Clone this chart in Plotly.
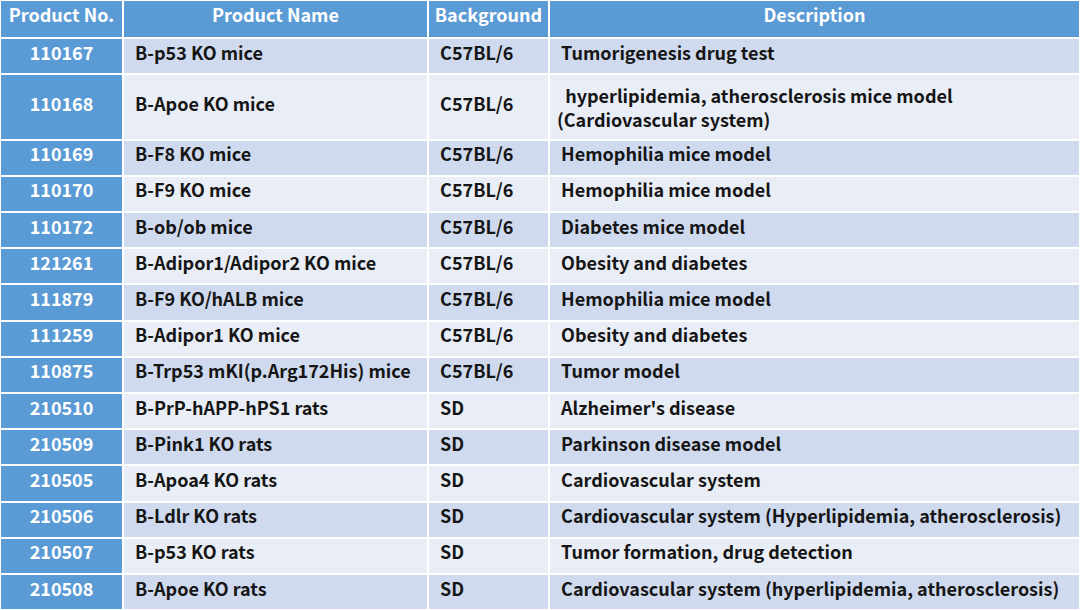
import plotly.graph_objects as go

headers = ["Product No.", "Product Name", "Background", "Description"]
product_no = ["110167", "110168", "110169", "110170", "110172", "121261", "111879",
              "111259", "110875", "210510", "210509", "210505", "210506", "210507", "210508"]
product_name = ["B-p53 KO mice", "B-Apoe KO mice", "B-F8 KO mice", "B-F9 KO mice",
                "B-ob/ob mice", "B-Adipor1/Adipor2 KO mice", "B-F9 KO/hALB mice",
                "B-Adipor1 KO mice", "B-Trp53 mKI(p.Arg172His) mice", "B-PrP-hAPP-hPS1 rats",
                "B-Pink1 KO rats", "B-Apoa4 KO rats", "B-Ldlr KO rats", "B-p53 KO rats",
                "B-Apoe KO rats"]
background = ["C57BL/6"] * 9 + ["SD"] * 6
description = [" Tumorigenesis drug test",
               "  hyperlipidemia, atherosclerosis mice model<br>(Cardiovascular system)",
               " Hemophilia mice model", " Hemophilia mice model", " Diabetes mice model",
               " Obesity and diabetes", " Hemophilia mice model", " Obesity and diabetes",
               " Tumor model", " Alzheimer's disease", " Parkinson disease model",
               " Cardiovascular system",
               " Cardiovascular system (Hyperlipidemia, atherosclerosis)",
               " Tumor formation, drug detection",
               " Cardiovascular system (hyperlipidemia, atherosclerosis)"]

BLUE = "#5B9BD5"
ODD = "#CFDAEE"
EVEN = "#E9EDF5"
n = len(product_no)
stripe = [ODD if i % 2 == 0 else EVEN for i in range(n)]
two_line = [("<br>" in d) for d in description]


def nb(lst, lead=""):
    # non-breaking spaces keep every cell on one line; single-line cells in a
    # two-line row are moved down so they sit in the middle of the row
    out = []
    for s, tall in zip(lst, two_line):
        t = (lead + s).replace(" ", "\u00a0")
        if tall and "<br>" not in t:
            t = "<br><span style='baseline-shift:-5px'>" + t + "</span>"
        out.append(t)
    return out


FONT = "Noto Sans CJK SC"

fig = go.Figure(go.Table(
    columnwidth=[123, 305, 121, 531],
    header=dict(
        values=[h.replace(" ", "\u00a0") for h in headers],
        fill_color=BLUE,
        line=dict(color="white", width=2),
        align="center",
        font=dict(family=FONT, size=18, color="white", weight="bold"),
        height=38,
    ),
    cells=dict(
        values=[nb(product_no), nb(product_name, " "), nb(background, " "), nb(description)],
        fill_color=[[BLUE] * n, stripe, stripe, stripe],
        line=dict(color="white", width=2),
        align=["center", "left", "left", "left"],
        font=dict(family=FONT, size=18, weight="bold",
                  color=[["white"] * n, "#151515", "#151515", "#151515"]),
        height=36.2,
    ),
    domain=dict(x=[0, 1], y=[0, 1]),
))

fig.update_layout(
    width=1080, height=610,
    margin=dict(l=0, r=0, t=0, b=0),
    paper_bgcolor="white",
)

fig.write_html("out.html", config={"displayModeBar": False},
               post_script="document.body.style.margin='0';")
